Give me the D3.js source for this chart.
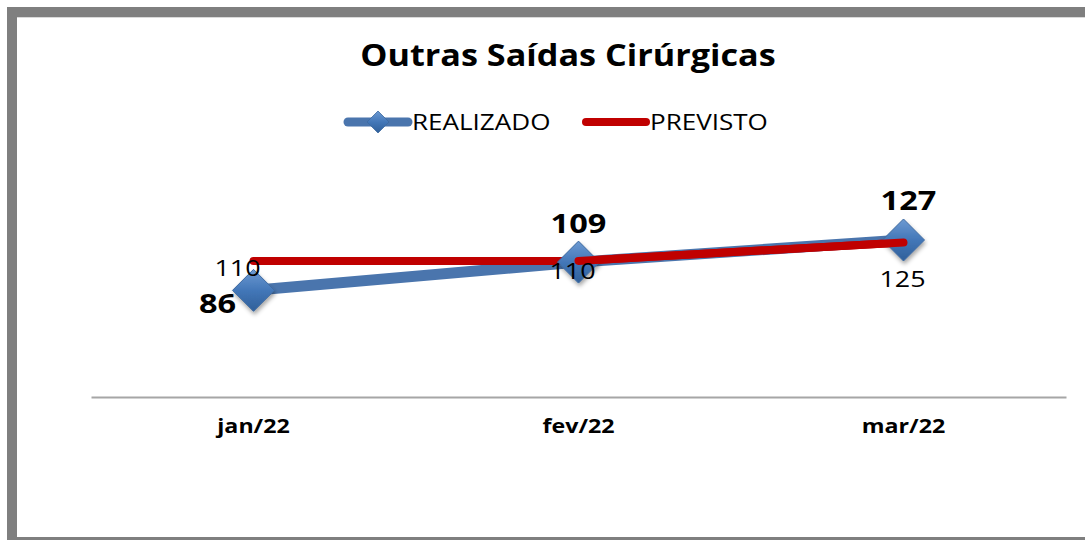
<!DOCTYPE html>
<html>
<head>
<meta charset="utf-8">
<script src="https://cdn.jsdelivr.net/npm/d3@7"></script>
<style>
  body { margin: 0; background: #fff; }
  svg { display: block; font-family: 'Open Sans', 'Noto Sans', sans-serif; }
</style>
</head>
<body>
<svg id="chart" width="1085" height="540"></svg>
<script>
const months = ['jan/22', 'fev/22', 'mar/22'];
const realizado = [86, 109, 127];
const previsto = [110, 110, 125];
const seriesNames = ['REALIZADO', 'PREVISTO'];

const blue = '#4a75ad';
const red = '#c00000';

const svg = d3.select('#chart');

// the original text is wider than the installed fonts, stretch it a bit
const stretch = (sel, k) => sel.each(function () {
  const w = this.getComputedTextLength();
  d3.select(this).attr('textLength', w * k).attr('lengthAdjust', 'spacingAndGlyphs');
});

// gradient + shadow for the diamond markers
const defs = svg.append('defs');
const grad = defs.append('linearGradient').attr('id', 'diamondFill')
  .attr('x1', 0).attr('y1', 0).attr('x2', 0).attr('y2', 1);
grad.append('stop').attr('offset', '0%').attr('stop-color', '#6d9ad2');
grad.append('stop').attr('offset', '50%').attr('stop-color', '#4377b8');
grad.append('stop').attr('offset', '100%').attr('stop-color', '#2f5f99');
const shadow = defs.append('filter').attr('id', 'shadow')
  .attr('x', '-50%').attr('y', '-50%').attr('width', '200%').attr('height', '200%');
shadow.append('feDropShadow').attr('dx', 1).attr('dy', 3).attr('stdDeviation', 2)
  .attr('flood-color', '#000').attr('flood-opacity', 0.35);

// outer frame (thick grey top/left, thin bottom)
svg.append('rect').attr('x', 7).attr('y', 7).attr('width', 1078).attr('height', 10).attr('fill', '#7f7f7f');
svg.append('rect').attr('x', 7).attr('y', 7).attr('width', 10).attr('height', 533).attr('fill', '#7f7f7f');
svg.append('rect').attr('x', 7).attr('y', 537).attr('width', 1078).attr('height', 3).attr('fill', '#7f7f7f');
svg.append('line').attr('x1', 17).attr('x2', 1085).attr('y1', 17.5).attr('y2', 17.5)
  .attr('stroke', '#d9d9d9');

// title
svg.append('text')
  .attr('x', 568).attr('y', 66)
  .attr('text-anchor', 'middle')
  .attr('font-size', 30).attr('font-weight', 'bold')
  .attr('fill', '#000')
  .text('Outras Saídas Cirúrgicas')
  .call(stretch, 1.14);

// scales
const x = d3.scaleBand().domain(months).range([91, 1066]);
const y = d3.scaleLinear().domain([0, 127]).range([396, 240]);
const cx = d => x(d) + x.bandwidth() / 2;

// category axis
const axis = svg.append('g')
  .attr('transform', 'translate(0,397)')
  .call(d3.axisBottom(x).tickSize(0).tickPadding(22));
axis.select('.domain').attr('stroke', '#a6a6a6').attr('stroke-width', 2);
axis.selectAll('.tick text')
  .attr('font-size', 20).attr('font-weight', 'bold')
  .attr('font-family', "'Open Sans', sans-serif")
  .attr('fill', '#000')
  .call(stretch, 1.16);

const line = d3.line().x((d, i) => cx(months[i])).y(d => y(d));

// realizado line
svg.append('path').datum(realizado)
  .attr('d', line)
  .attr('fill', 'none').attr('stroke', blue)
  .attr('stroke-width', 11).attr('stroke-linecap', 'round');

// previsto line
svg.append('path').datum(previsto)
  .attr('d', line)
  .attr('fill', 'none').attr('stroke', red)
  .attr('stroke-width', 8).attr('stroke-linecap', 'round');

const diamond = r => `M0,${-r}L${r},0L0,${r}L${-r},0Z`;

// realizado markers
svg.append('g').selectAll('path')
  .data(realizado)
  .join('path')
  .attr('transform', (d, i) => `translate(${cx(months[i])},${y(d)})`)
  .attr('d', diamond(21))
  .attr('fill', 'url(#diamondFill)')
  .attr('stroke', '#3e6aa0').attr('stroke-width', 1)
  .attr('filter', 'url(#shadow)');

// red line drawn over the later markers, as in the reference
svg.append('path').datum(previsto.slice(1))
  .attr('d', d3.line().x((d, i) => cx(months[i + 1])).y(d => y(d)))
  .attr('fill', 'none').attr('stroke', red)
  .attr('stroke-width', 8).attr('stroke-linecap', 'round');

// realizado labels (bold)
const realOffsets = [[-36, 23], [0, -29], [5, -30]];
svg.append('g').selectAll('text')
  .data(realizado)
  .join('text')
  .attr('x', (d, i) => cx(months[i]) + realOffsets[i][0])
  .attr('y', (d, i) => y(d) + realOffsets[i][1])
  .attr('text-anchor', 'middle')
  .attr('font-size', 26).attr('font-weight', 'bold')
  .attr('fill', '#000')
  .text(d => d)
  .call(stretch, 1.25);

// previsto labels
const prevOffsets = [[-16, 15], [-6, 18], [-1, 45]];
svg.append('g').selectAll('text')
  .data(previsto)
  .join('text')
  .attr('x', (d, i) => cx(months[i]) + prevOffsets[i][0])
  .attr('y', (d, i) => y(d) + prevOffsets[i][1])
  .attr('text-anchor', 'middle')
  .attr('font-size', 21)
  .attr('fill', '#000')
  .text(d => d)
  .call(stretch, 1.28);

// legend
const legend = svg.append('g').attr('transform', 'translate(0,122)');
const legendX = [345, 583];
seriesNames.forEach((name, i) => {
  const g = legend.append('g').attr('transform', `translate(${legendX[i]},0)`);
  g.append('line')
    .attr('x1', 3).attr('x2', 63)
    .attr('stroke', i === 0 ? blue : red)
    .attr('stroke-width', i === 0 ? 9 : 8)
    .attr('stroke-linecap', 'round');
  if (i === 0) {
    g.append('path')
      .attr('transform', 'translate(33,0)')
      .attr('d', diamond(11))
      .attr('fill', 'url(#diamondFill)')
      .attr('stroke', '#3e6aa0').attr('stroke-width', 0.8);
  }
  g.append('text')
    .attr('x', 67).attr('y', 8)
    .attr('font-size', 21)
    .attr('fill', '#000')
    .text(name)
    .call(stretch, 1.24);
});
</script>
</body>
</html>
